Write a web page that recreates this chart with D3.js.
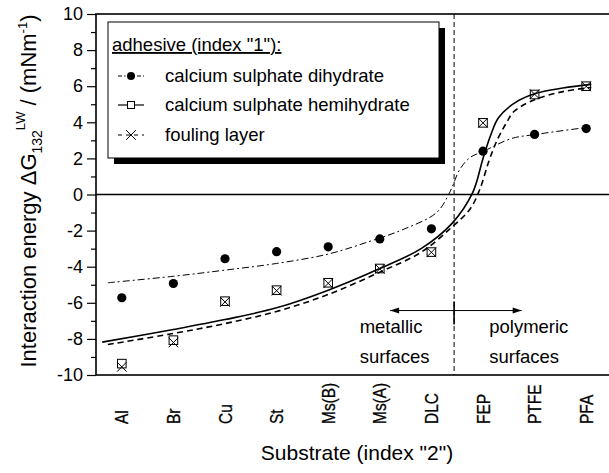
<!DOCTYPE html>
<html>
<head>
<meta charset="utf-8">
<script src="https://cdn.jsdelivr.net/npm/d3@7"></script>
<style>
  body { margin: 0; background: #fff; }
  svg { display: block; font-family: "Liberation Sans", Arial, sans-serif; }
</style>
</head>
<body>
<div id="chart"></div>
<script>
// substrates along the x axis (index "2")
const substrates = ["Al", "Br", "Cu", "St", "Ms(B)", "Ms(A)", "DLC", "FEP", "PTFE", "PFA"];

// measured values, mN/m
const dihydrate = [-5.72, -4.93, -3.56, -3.17, -2.90, -2.46, -1.90, 2.40, 3.33, 3.65];
const hemihydrate = [-9.37, -8.07, -5.91, -5.30, -4.89, -4.10, -3.19, 3.97, 5.54, 6.00];
const fouling = [-9.55, -8.20, -5.95, -5.33, -4.92, -4.12, -3.20, 3.97, 5.56, 5.99];

// fitted curves: [substrate position, value]
const dihydrateFit = [[-0.27, -4.89], [1.0, -4.53], [2.0, -4.19], [3.0, -3.82], [4.0, -3.30], [4.81, -2.59],
  [5.45, -1.94], [6.1, -1.0], [6.36, 0.15], [6.55, 1.39], [6.75, 2.05], [7.0, 2.38], [7.55, 3.1], [8.0, 3.32], [9.05, 3.73]];
const hemihydrateFit = [[-0.38, -8.18], [1.0, -7.48], [2.0, -6.93], [3.0, -6.28], [4.0, -5.3], [5.0, -4.1], [5.8, -3.0],
  [6.4, -1.6], [6.8, 0.1], [7.0, 2.0], [7.15, 3.3], [7.3, 4.25], [7.6, 5.05], [8.0, 5.58], [8.55, 5.9], [9.1, 6.1]];
const foulingFit = [[-0.27, -8.31], [1.0, -7.7], [2.0, -7.15], [3.0, -6.48], [4.0, -5.54], [5.0, -4.3], [5.8, -3.2],
  [6.4, -1.8], [6.75, -0.8], [6.94, 0.3], [7.12, 1.9], [7.28, 3.05], [7.45, 3.95], [7.6, 4.6], [8.0, 5.25], [8.55, 5.7], [9.1, 5.93]];

const yTicks = [-10, -8, -6, -4, -2, 0, 2, 4, 6, 8, 10];
const legendTitle = 'adhesive (index "1"):';
const legendLabels = ["calcium sulphate dihydrate", "calcium sulphate hemihydrate", "fouling layer"];
const dividerPos = 6.44;

const width = 609;
const height = 473;

const xScale = d3.scaleLinear()
                  .domain([-0.5, 9.5])
                  .range([96, 612]);

const yScale = d3.scaleLinear()
                  .domain([-10, 10])
                  .range([375, 14]);

const svg = d3.select("#chart")
              .append("svg")
              .attr("width", width)
              .attr("height", height);

svg.append("rect")
    .attr("width", width)
    .attr("height", height)
    .attr("fill", "#fff");

// frame
svg.append("rect")
    .attr("x", xScale(-0.5))
    .attr("y", yScale(10))
    .attr("width", xScale(9.5) - xScale(-0.5))
    .attr("height", yScale(-10) - yScale(10))
    .attr("fill", "none")
    .attr("stroke", "#000")
    .attr("stroke-width", 1.6);

// y axis, major + minor ticks
const yAxis = d3.axisLeft(yScale)
                .tickValues(yTicks)
                .tickSize(9)
                .tickSizeOuter(0)
                .tickPadding(4)
                .tickFormat(d => String(d));

const yMinor = d3.axisLeft(yScale)
                 .tickValues(d3.range(-9, 10, 2))
                 .tickSize(5)
                 .tickSizeOuter(0)
                 .tickFormat("");

svg.append("g")
    .attr("transform", `translate(${xScale(-0.5)}, 0)`)
    .call(yAxis)
    .call(g => g.select(".domain").remove())
    .call(g => g.selectAll("line").attr("stroke-width", 1.2))
    .call(g => g.selectAll("text")
                .attr("font-family", "Liberation Sans, Arial, sans-serif")
                .attr("font-size", 18)
                .attr("fill", "#000"));

svg.append("g")
    .attr("transform", `translate(${xScale(-0.5)}, 0)`)
    .call(yMinor)
    .call(g => g.select(".domain").remove())
    .call(g => g.selectAll("line").attr("stroke-width", 1.2));

// zero line and metallic / polymeric divider
svg.append("line")
    .attr("x1", xScale(-0.5))
    .attr("x2", xScale(9.5))
    .attr("y1", yScale(0))
    .attr("y2", yScale(0))
    .attr("stroke", "#000")
    .attr("stroke-width", 1.3);

svg.append("line")
    .attr("x1", xScale(dividerPos))
    .attr("x2", xScale(dividerPos))
    .attr("y1", yScale(10))
    .attr("y2", yScale(-10))
    .attr("stroke", "#000")
    .attr("stroke-width", 1)
    .attr("stroke-dasharray", "5,3");

// x category labels
svg.append("g")
    .selectAll("text")
    .data(substrates)
    .enter()
    .append("text")
    .attr("transform", (d, i) => `translate(${xScale(i) + 6.5}, 424) rotate(-90) scale(0.86, 1)`)
    .attr("font-size", 18)
    .attr("stroke", "#000")
    .attr("stroke-width", 0.3)
    .text(d => d);

// fitted curves
const line = d3.line()
               .x(d => xScale(d[0]))
               .y(d => yScale(d[1]))
               .curve(d3.curveCatmullRom.alpha(0.5));

const curves = [
  { pts: dihydrateFit, dash: "7,3,2,3", w: 1 },
  { pts: hemihydrateFit, dash: null, w: 1.6 },
  { pts: foulingFit, dash: "6,4", w: 1.6 }
];

svg.append("g")
    .selectAll("path")
    .data(curves)
    .enter()
    .append("path")
    .attr("d", d => line(d.pts))
    .attr("fill", "none")
    .attr("stroke", "#000")
    .attr("stroke-width", d => d.w)
    .attr("stroke-dasharray", d => d.dash);

// markers
svg.append("g")
    .selectAll("circle")
    .data(dihydrate)
    .enter()
    .append("circle")
    .attr("cx", (d, i) => xScale(i))
    .attr("cy", d => yScale(d))
    .attr("r", 4.6)
    .attr("fill", "#000");

svg.append("g")
    .selectAll("rect")
    .data(hemihydrate)
    .enter()
    .append("rect")
    .attr("x", (d, i) => xScale(i) - 4.3)
    .attr("y", d => yScale(d) - 4.3)
    .attr("width", 8.6)
    .attr("height", 8.6)
    .attr("fill", "none")
    .attr("stroke", "#000")
    .attr("stroke-width", 1);

const cross = d3.symbol().type(d3.symbolX).size(62);

svg.append("g")
    .selectAll("path")
    .data(fouling)
    .enter()
    .append("path")
    .attr("transform", (d, i) => `translate(${xScale(i)}, ${yScale(d)})`)
    .attr("d", cross)
    .attr("fill", "none")
    .attr("stroke", "#000")
    .attr("stroke-width", 1);

// metallic / polymeric annotation
const note = svg.append("g");
note.append("line")
    .attr("x1", xScale(5.2))
    .attr("x2", xScale(7.75))
    .attr("y1", yScale(-6.43))
    .attr("y2", yScale(-6.43))
    .attr("stroke", "#000")
    .attr("stroke-width", 1);
note.append("line")
    .attr("x1", xScale(dividerPos))
    .attr("x2", xScale(dividerPos))
    .attr("y1", yScale(-5.93))
    .attr("y2", yScale(-7.2))
    .attr("stroke", "#000")
    .attr("stroke-width", 1.6);
note.selectAll("path")
    .data([[5.2, -1], [7.75, 1]])
    .enter()
    .append("path")
    .attr("d", d => {
      const x = xScale(d[0]), y = yScale(-6.43);
      return `M${x},${y}L${x - d[1] * 9},${y - 3}L${x - d[1] * 9},${y + 3}Z`;
    })
    .attr("fill", "#000");
note.selectAll("text")
    .data([["metallic", 4.61, -7.65], ["surfaces", 4.61, -9.31], ["polymeric", 7.12, -7.65], ["surfaces", 7.12, -9.31]])
    .enter()
    .append("text")
    .attr("x", d => xScale(d[1]))
    .attr("y", d => yScale(d[2]))
    .attr("font-size", 18.5)
    .text(d => d[0]);

// legend
const legend = svg.append("g");
legend.append("rect")
    .attr("x", 114)
    .attr("y", 28)
    .attr("width", 331)
    .attr("height", 136)
    .attr("fill", "#000");
legend.append("rect")
    .attr("x", 108)
    .attr("y", 22)
    .attr("width", 331)
    .attr("height", 136)
    .attr("fill", "#fff")
    .attr("stroke", "#000")
    .attr("stroke-width", 1);
legend.append("text")
    .attr("x", 112)
    .attr("y", 51)
    .attr("font-size", 18.5)
    .attr("text-decoration", "underline")
    .text(legendTitle);

const rows = legend.selectAll("g.row")
                   .data(legendLabels)
                   .enter()
                   .append("g")
                   .attr("class", "row")
                   .attr("transform", (d, i) => `translate(0, ${[76, 105, 135][i]})`);
rows.append("line")
    .attr("x1", 118)
    .attr("x2", 144)
    .attr("stroke", "#000")
    .attr("stroke-width", (d, i) => curves[i].w === 1 ? 1 : 1.2)
    .attr("stroke-dasharray", (d, i) => ["4,2,1.5,2", null, "4,4"][i]);
rows.append("text")
    .attr("x", 165)
    .attr("y", 6)
    .attr("font-size", 18.5)
    .text(d => d);
rows.filter((d, i) => i === 0)
    .append("circle")
    .attr("cx", 131)
    .attr("r", 4)
    .attr("fill", "#000");
rows.filter((d, i) => i === 1)
    .append("rect")
    .attr("x", 127.5)
    .attr("y", -3.5)
    .attr("width", 7)
    .attr("height", 7)
    .attr("fill", "#fff")
    .attr("stroke", "#000");
rows.filter((d, i) => i === 2)
    .append("path")
    .attr("transform", "translate(131, 0)")
    .attr("d", cross)
    .attr("fill", "none")
    .attr("stroke", "#000");

// axis titles
svg.append("text")
    .attr("x", 357)
    .attr("y", 460)
    .attr("text-anchor", "middle")
    .attr("font-size", 21)
    .text('Substrate (index "2")');

const yTitle = svg.append("text")
                  .attr("transform", "translate(36, 191) rotate(-90)")
                  .attr("text-anchor", "middle")
                  .attr("font-size", 22);
yTitle.append("tspan").text("Interaction energy \u0394G");
yTitle.append("tspan").attr("font-size", 14).attr("dy", 6).text("132");
yTitle.append("tspan").attr("font-size", 13).attr("dy", -17).text("LW");
yTitle.append("tspan").attr("dy", 11).text(" / (mNm");
yTitle.append("tspan").attr("font-size", 13).attr("dy", -9).text("-1");
yTitle.append("tspan").attr("dy", 9).text(")");
</script>
</body>
</html>
